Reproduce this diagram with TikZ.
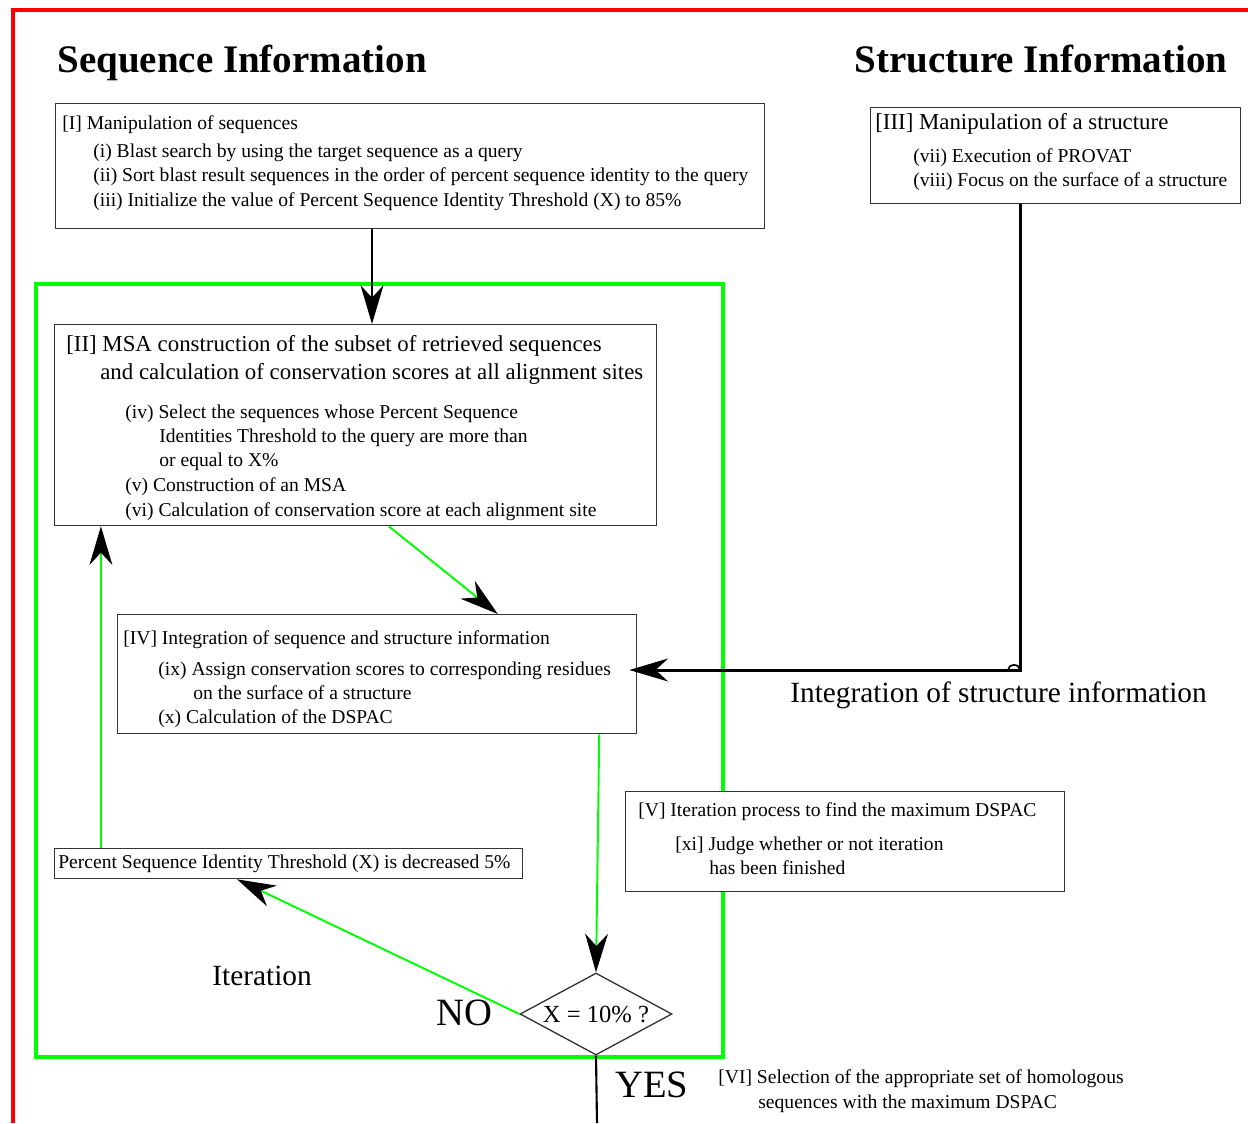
\documentclass[tikz,border=0pt]{standalone}
\usepackage{fontspec}
\setmainfont{Liberation Serif}
\usetikzlibrary{arrows.meta,shapes.geometric,calc}

\begin{document}
\begin{tikzpicture}[x=0.02cm,y=-0.02cm,
	box/.style={draw=black!80,line width=0.75pt,fill=white,anchor=north west,inner sep=0pt},
	body/.style={anchor=base west,inner sep=0pt,font=\fontsize{11.15}{13.9}\selectfont},
	ttl/.style={anchor=base west,inner sep=0pt,font=\fontsize{13}{16}\selectfont},
	head/.style={anchor=base west,inner sep=0pt,font=\fontsize{22.2}{26}\selectfont\bfseries},
	big/.style={anchor=base west,inner sep=0pt,font=\fontsize{16.7}{20}\selectfont},
	yesno/.style={anchor=base west,inner sep=0pt,font=\fontsize{22}{26}\selectfont},
	bigtip/.style={-{Stealth[length=22pt,width=13pt,inset=7pt,color=black]}},
	flow/.style={bigtip,green,line width=1.1pt},
	link/.style={bigtip,black,line width=1.4pt}]
	\useasboundingbox (0,0) rectangle (1248,1123);
	% frames
	\draw[red,line width=2.6pt] (13,1123) -- (13,10) -- (1248,10);
	\draw[green,line width=2pt] (36,284) rectangle (723,1057);
	
	\node[head] (seqhd) at (57,72) {Sequence Information};
	\node[head] (strhd) at (854,72) {Structure Information};
	
	% boxes
	\node[box,minimum width=14.18cm,minimum height=2.5cm] (I) at (55,103) {};
	\node[box,minimum width=7.4cm,minimum height=1.92cm] (III) at (870,107) {};
	\node[box,minimum width=12.04cm,minimum height=4.02cm] (II) at (54,324) {};
	\node[box,minimum width=10.38cm,minimum height=2.38cm] (IV) at (117,614) {};
	\node[box,minimum width=8.78cm,minimum height=2cm] (V) at (625,791) {};
	\node[box,minimum width=9.36cm,minimum height=0.6cm] (thr) at (54,848) {};
	\node[diamond,draw=black!80,line width=0.75pt,fill=white,inner sep=0pt,
		minimum width=3.04cm,minimum height=1.64cm,
		label={[font=\fontsize{14}{17}\selectfont]center:X = 10\% ?}] (dec) at (596,1014) {};
	
	% texts
	\node[body] (I1) at (62,129) {[I] Manipulation of sequences};
	\node[body] (I2) at (93,157) {(i) Blast search by using the target sequence as a query};
	\node[body] (I3) at (93,181) {(ii) Sort blast result sequences in the order of percent sequence identity to the query};
	\node[body] (I4) at (93,206) {(iii) Initialize the value of Percent Sequence Identity Threshold (X) to 85\%};
	
	\node[ttl] (III1) at (875,129) {[III] Manipulation of a structure};
	\node[body] (III2) at (913,162) {(vii) Execution of PROVAT};
	\node[body] (III3) at (913,186) {(viii) Focus on the surface of a structure};
	
	\node[ttl] (II1) at (66,351) {[II] MSA construction of the subset of retrieved sequences};
	\node[ttl] (II2) at (100,379) {and calculation of conservation scores at all alignment sites};
	\node[body] (II3) at (125,418) {(iv) Select the sequences whose Percent Sequence};
	\node[body] (II4) at (159,442) {Identities Threshold to the query are more than};
	\node[body] (II5) at (159,466) {or equal to X\%};
	\node[body] (II6) at (125,491) {(v) Construction of an MSA};
	\node[body] (II7) at (125,516) {(vi) Calculation of conservation score at each alignment site};
	
	\node[body] (IV1) at (123,644) {[IV] Integration of sequence and structure information};
	\node[body] (IV2) at (158,675) {(ix) Assign conservation scores to corresponding residues};
	\node[body] (IV3) at (193,699) {on the surface of a structure};
	\node[body] (IV4) at (158,723) {(x) Calculation of the DSPAC};
	
	\node[body] (V1) at (638,816) {[V] Iteration process to find the maximum DSPAC};
	\node[body] (V2) at (675,850) {[xi] Judge whether or not iteration};
	\node[body] (V3) at (709,874) {has been finished};
	
	\node[body] (thr1) at (58,868) {Percent Sequence Identity Threshold (X) is decreased 5\%};
	
	\node[body] (VI1) at (718,1083) {[VI] Selection of the appropriate set of homologous};
	\node[body] (VI2) at (758,1108) {sequences with the maximum DSPAC};
	
	\node[big] (integ) at (790,702) {Integration of structure information};
	\node[big] (iter) at (212,985) {Iteration};
	\node[yesno] (no) at (436,1025) {NO};
	\node[yesno] (yes) at (615,1097) {YES};
	
	% connectors
	\path
	(372,0) coordinate (down)
	(1020,670) coordinate (bend)
	($(thr.north west)!0.1!(thr.north east)$) coordinate (up)
	(597,1123) coordinate (out)
	;
	\draw[link] (I.south -| down) -- (II.north -| down);
	\draw[link,line width=1.7pt,shorten >=-4.5pt] (III.south -| bend) -- (bend) -- (IV.east |- bend);
	\draw[line width=1pt] (1008,670) arc[start angle=180,end angle=0,x radius=0.12cm,y radius=0.1cm];
	\draw[flow] ($(II.south west)!0.555!(II.south east)$) -- ($(IV.north west)!0.732!(IV.north east)$);
	\draw[flow] ($(IV.south west)!0.927!(IV.south east)$) -- (dec.north);
	\draw[flow] (dec.west) -- ($(thr.south west)!0.39!(thr.south east)$);
	\draw[flow] (up) -- (up |- II.south);
	\draw[black,line width=1.2pt] (dec.south) -- (out);
	
\end{tikzpicture}
\end{document}
